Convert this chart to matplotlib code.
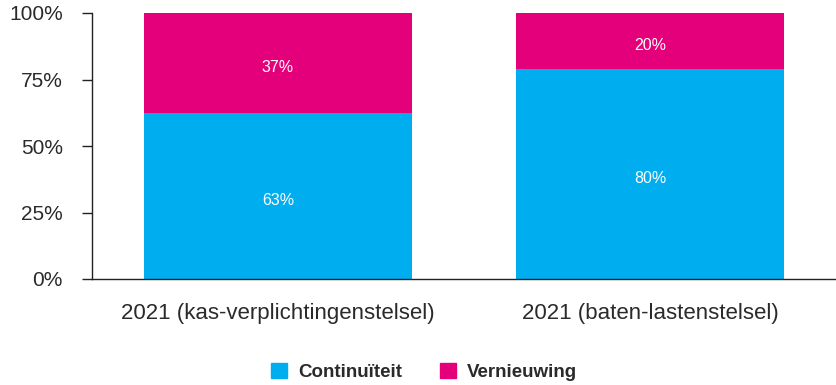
import matplotlib.pyplot as plt
from matplotlib.patches import Patch
from matplotlib.ticker import FuncFormatter
import numpy as np

plt.rcParams['font.family'] = ['Liberation Sans', 'DejaVu Sans']

# data
categories = ['2021 (kas-verplichtingenstelsel)', '2021 (baten-lastenstelsel)']
continuiteit = [62.5, 79.0]
vernieuwing = [37.5, 21.0]
labels_cont = ['63%', '80%']
labels_vern = ['37%', '20%']
yticks = [0, 25, 50, 75, 100]

blue = '#00aeef'
magenta = '#e4007a'
text_col = '#2a2a2a'

fig = plt.figure(figsize=(8.36, 3.85), dpi=100)
ax = fig.add_axes([92 / 836, 1 - 279 / 385, 1 - 92 / 836, (279 - 13) / 385])

x = np.arange(len(categories))
ax.bar(x, continuiteit, width=0.723, color=blue, linewidth=0)
ax.bar(x, vernieuwing, width=0.723, bottom=continuiteit, color=magenta, linewidth=0)

# value labels, sitting a touch below the segment centre like the original
for xi, c, v, lc, lv in zip(x, continuiteit, vernieuwing, labels_cont, labels_vern):
    for yc, txt in [(c / 2, lc), (c + v / 2, lv)]:
        ax.annotate(txt, (xi, yc), xytext=(0, -3), textcoords='offset points',
                    ha='center', va='center', color='white', fontsize=11.5)

ax.set_xlim(-0.5, 1.5)
ax.set_ylim(0, 100)
ax.set_yticks(yticks)
ax.yaxis.set_major_formatter(FuncFormatter(lambda v, p: f'{v:.0f}%'))
ax.set_xticks(x)
ax.set_xticklabels(categories)

for s in ['top', 'right']:
    ax.spines[s].set_visible(False)
for s in ['left', 'bottom']:
    ax.spines[s].set_color('#222222')
    ax.spines[s].set_linewidth(1.0)

ax.tick_params(axis='y', length=7, width=1, color='#222222', pad=14,
               labelsize=15, labelcolor=text_col)
ax.tick_params(axis='x', length=0, pad=17, labelsize=16, labelcolor=text_col)

handles = [Patch(color=blue, label='Continuïteit'),
           Patch(color=magenta, label='Vernieuwing')]
fig.legend(handles=handles, loc='center', bbox_to_anchor=(424 / 836, 1 - 372 / 385),
           ncol=2, frameon=False, handlelength=0.85, handleheight=0.85,
           handletextpad=0.6, columnspacing=2.0,
           prop={'weight': 'bold', 'size': 13.5}, labelcolor=text_col)

fig.savefig('out.png', dpi=100)
